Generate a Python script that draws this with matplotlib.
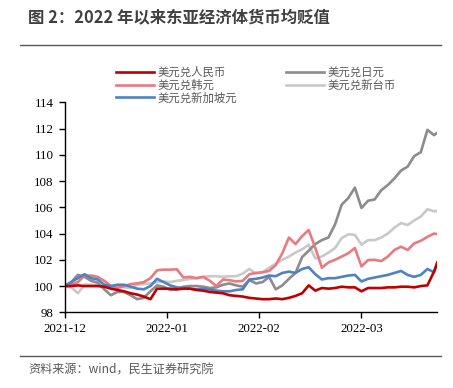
import pandas as pd
import matplotlib
matplotlib.use('Agg')
import matplotlib.pyplot as plt

plt.rcParams['font.family'] = ['Noto Sans CJK SC', 'DejaVu Sans']

# days since 2021-12-31
days = list(range(0, 113, 2)) + [113]

cny = [100.0, 100.0, 100.05, 100.0, 100.0, 100.0, 99.95, 99.8, 99.7, 99.6,
       99.45, 99.35, 99.2, 99.0, 99.8, 99.8, 99.8, 99.75, 99.8, 99.8,
       99.7, 99.65, 99.55, 99.5, 99.45, 99.3, 99.25, 99.2, 99.1, 99.05,
       99.0, 99.0, 99.05, 99.0, 99.1, 99.25, 99.45, 100.05, 99.65, 99.85,
       99.8, 99.85, 99.95, 99.9, 99.9, 99.6, 99.85, 99.85, 99.85, 99.9,
       99.9, 99.95, 99.95, 99.9, 100.0, 100.05, 101.1, 101.8]
sgd = [100.0, 100.3, 100.6, 100.9, 100.6, 100.5, 100.1, 100.0, 100.1, 100.1,
       99.95, 99.8, 99.75, 100.0, 100.55, 100.3, 100.05, 99.9, 99.85, 99.8,
       99.75, 99.8, 99.75, 99.65, 99.6, 99.6, 99.7, 99.75, 100.5, 100.55,
       100.65, 100.8, 100.75, 101.0, 101.1, 101.0, 101.3, 101.43, 100.9, 100.5,
       100.6, 100.6, 100.7, 100.8, 100.85, 100.35, 100.55, 100.65, 100.75, 100.85,
       101.0, 101.15, 100.85, 100.7, 100.85, 101.3, 101.05, 101.75]
krw = [100.0, 100.1, 100.3, 100.8, 100.8, 100.7, 100.4, 100.0, 99.85, 100.0,
       100.15, 100.2, 100.3, 100.6, 101.2, 101.25, 101.25, 101.28, 100.65, 100.7,
       100.6, 100.7, 100.4, 100.0, 100.5, 100.45, 100.35, 100.4, 100.9, 101.0,
       101.05, 101.15, 101.6, 102.5, 103.7, 103.2, 103.8, 104.27, 102.9, 101.4,
       101.8, 102.0, 102.25, 102.5, 102.9, 101.5, 101.98, 102.0, 101.9, 102.25,
       102.75, 103.0, 102.75, 103.25, 103.45, 103.75, 104.0, 103.95]
jpy = [100.0, 100.3, 100.85, 100.7, 100.4, 100.25, 99.75, 99.3, 99.55, 99.55,
       99.3, 99.0, 99.1, 99.6, 100.05, 99.95, 99.7, 99.75, 99.95, 100.0,
       100.0, 99.95, 99.85, 99.9, 100.1, 100.2, 100.05, 99.95, 100.45, 100.2,
       100.3, 100.7, 99.75, 100.05, 100.55, 101.0, 102.2, 102.7, 103.2, 103.5,
       103.7, 104.7, 106.2, 106.7, 107.5, 105.95, 106.5, 106.6, 107.3, 107.7,
       108.2, 108.8, 109.1, 109.9, 110.2, 111.9, 111.5, 111.68]
twd = [100.0, 99.9, 99.45, 100.1, 100.1, 100.05, 100.0, 100.0, 100.0, 99.9,
       99.85, 100.1, 100.15, 100.2, 100.3, 100.35, 100.3, 100.4, 100.45, 100.55,
       100.6, 100.7, 100.75, 100.75, 100.7, 100.75, 100.75, 100.95, 101.3, 100.95,
       101.05, 101.4, 101.7, 102.0, 102.25, 102.55, 102.8, 103.15, 102.1, 102.25,
       102.55, 102.9, 103.65, 103.95, 103.9, 103.15, 103.5, 103.5, 103.7, 104.0,
       104.45, 104.8, 104.65, 105.0, 105.3, 105.85, 105.7, 105.72]

tick_dates = ['2021-12-31', '2022-01-31', '2022-02-28', '2022-03-31']
tick_labels = ['2021-12', '2022-01', '2022-02', '2022-03']

dates = pd.Timestamp('2021-12-31') + pd.to_timedelta(days, unit='D')

fig = plt.figure(figsize=(4.53, 3.88), dpi=100)
ax = fig.add_axes([64.7 / 453, 1 - 312.3 / 388, (437.3 - 64.7) / 453, 210 / 388])

lw = 1.9
l_twd, = ax.plot(dates, twd, color='#C9C9C9', lw=lw, label='美元兑新台币')
l_jpy, = ax.plot(dates, jpy, color='#8C8C8C', lw=lw, label='美元兑日元')
l_krw, = ax.plot(dates, krw, color='#E97A80', lw=lw, label='美元兑韩元')
l_sgd, = ax.plot(dates, sgd, color='#4F81C4', lw=lw, label='美元兑新加坡元')
l_cny, = ax.plot(dates, cny, color='#C00000', lw=lw, label='美元兑人民币')

ax.set_ylim(98, 114)
ax.set_yticks(range(98, 115, 2))
ax.set_xlim(dates[0], dates[-1])
ax.set_xticks(pd.to_datetime(tick_dates))
ax.set_xticklabels(tick_labels)
for s in ['top', 'right']:
    ax.spines[s].set_visible(False)
for s in ['left', 'bottom']:
    ax.spines[s].set_linewidth(1.0)
ax.tick_params(direction='out', length=4, width=1, pad=4)
for t in ax.get_xticklabels() + ax.get_yticklabels():
    t.set_family('Liberation Serif')
    t.set_fontsize(9.3)

fig.legend(handles=[l_cny, l_krw, l_sgd, l_jpy, l_twd], ncol=2, frameon=False,
           loc='upper left', bbox_to_anchor=(116 / 453, 1 - 67 / 388),
           prop={'size': 8.2}, labelcolor='#595959', handlelength=3.3,
           handletextpad=0.35, labelspacing=0.12, columnspacing=4.3,
           borderpad=0, borderaxespad=0)

fig.text(28 / 453, 1 - 17 / 388, '图 2：2022 年以来东亚经济体货币均贬值',
         fontsize=11.8, fontweight='bold', color='#404040', va='center')
fig.add_artist(plt.Line2D([20 / 453, 441 / 453], [1 - 45 / 388] * 2,
                          color='#595959', lw=1))
fig.add_artist(plt.Line2D([20 / 453, 441 / 453], [1 - 356 / 388] * 2,
                          color='#595959', lw=1))
fig.text(28 / 453, 1 - 370 / 388, '资料来源：wind，民生证券研究院',
         fontsize=8.7, color='#595959', va='center')

fig.savefig('out.png', dpi=100)
